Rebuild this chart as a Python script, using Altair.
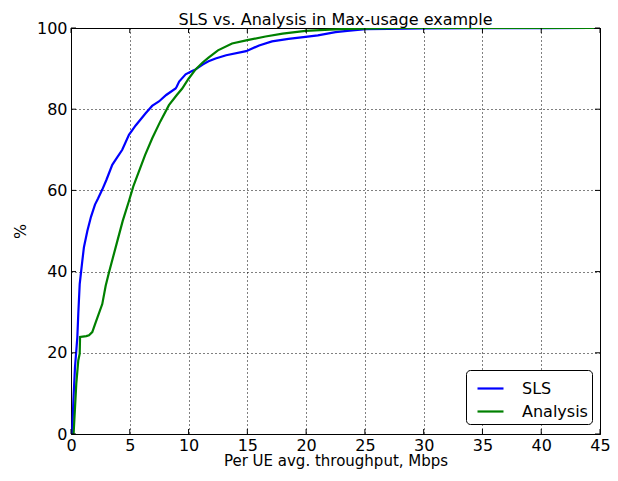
import altair as alt
import pandas as pd

# SLS curve (x: Mbps, y: %)
sls_x = [0.1, 0.2, 0.34, 0.45, 0.54, 0.62, 0.74, 0.96, 1.1, 1.39, 1.7, 2.04, 2.3, 2.66,
         3.0, 3.51, 3.9, 4.36, 4.93, 5.5, 6.35, 6.9, 7.48, 8.1, 8.9, 9.0, 9.2, 9.75,
         10.3, 10.6, 11.2, 11.7, 12.3, 13.2, 14.9, 16.0, 17.1, 18.5, 19.95, 21.0,
         22.5, 23.5, 25.05, 27.0, 30.0, 35.0, 40.0, 44.2]
sls_y = [0.0, 8.0, 16.5, 20.5, 23.9, 29.6, 36.9, 42.6, 46.0, 50.0, 53.5, 56.5, 58.0, 60.2,
         62.5, 66.3, 68.0, 70.0, 73.7, 76.0, 79.0, 80.8, 81.9, 83.5, 85.1, 85.6, 86.8, 88.6,
         89.4, 89.8, 91.0, 91.8, 92.5, 93.3, 94.3, 95.7, 96.7, 97.3, 97.8, 98.2,
         99.0, 99.3, 99.7, 99.8, 99.9, 99.95, 99.98, 100.0]

# Analysis curve
ana_x = [0.22, 0.45, 0.62, 0.74, 0.77, 1.0, 1.3, 1.53, 1.81, 2.1, 2.66, 2.95, 3.23, 3.94,
         4.4, 4.93, 5.3, 5.78, 6.3, 6.92, 7.6, 8.33, 9.0, 9.46, 10.0, 10.6, 11.2,
         11.7, 12.5, 13.7, 15.0, 16.55, 18.0, 19.95, 22.0, 23.6, 26.0, 28.0, 32.0,
         38.0, 44.5]
ana_y = [0.0, 12.4, 18.1, 19.8, 23.9, 24.0, 24.1, 24.3, 25.1, 27.5, 32.0, 36.5, 39.8, 47.5,
         52.5, 57.4, 61.0, 64.7, 68.7, 72.9, 77.0, 81.0, 83.5, 85.1, 87.5, 89.8, 91.5,
         92.7, 94.5, 96.2, 97.0, 97.9, 98.6, 99.3, 99.6, 99.8, 99.9, 100.0, 100.0,
         100.0, 100.0]

series = ["SLS", "Analysis"]
colors = ["#0000ff", "#008000"]
x_ticks = [0, 5, 10, 15, 20, 25, 30, 35, 40, 45]
y_ticks = [0, 20, 40, 60, 80, 100]

W, H = 529, 406

rows = []
for i, (xv, yv) in enumerate(zip(sls_x, sls_y)):
    rows.append({"x": xv, "y": yv, "series": "SLS", "o": i})
for i, (xv, yv) in enumerate(zip(ana_x, ana_y)):
    rows.append({"x": xv, "y": yv, "series": "Analysis", "o": i})
df = pd.DataFrame(rows)

xscale = alt.Scale(domain=[0, 45], nice=False, zero=False)
yscale = alt.Scale(domain=[0, 100], nice=False, zero=False)

lines = alt.Chart(df).mark_line(strokeWidth=2.2, clip=True).encode(
    x=alt.X("x:Q", scale=xscale,
            axis=alt.Axis(values=x_ticks, title="Per UE avg. throughput, Mbps",
                          grid=True, gridDash=[1, 3], gridColor="black", gridOpacity=1,
                          gridWidth=1, ticks=False, domain=False,
                          labelFontSize=16, labelColor="black", labelPadding=3,
                          titleFontSize=15, titleFontWeight="normal", titleColor="black",
                          titlePadding=0, labelFlush=False)),
    y=alt.Y("y:Q", scale=yscale,
            axis=alt.Axis(values=y_ticks, title="%",
                          grid=True, gridDash=[1, 3], gridColor="black", gridOpacity=1,
                          gridWidth=1, ticks=False, domain=False,
                          labelFontSize=16, labelColor="black", labelPadding=4,
                          titleFontSize=16, titleFontWeight="normal", titleColor="black",
                          titlePadding=8, labelFlush=False)),
    color=alt.Color("series:N", scale=alt.Scale(domain=series, range=colors),
                    legend=alt.Legend(title=None, orient="none", legendX=395, legendY=342,
                                      strokeColor="black", fillColor="white", padding=4,
                                      symbolOffset=6,
                                      cornerRadius=4, labelFontSize=16, labelColor="black",
                                      symbolType="stroke", symbolSize=676,
                                      symbolStrokeWidth=2.2, labelOffset=17, rowPadding=-2)),
    order="o:Q",
)

xt = pd.DataFrame({"x": x_ticks})
yt = pd.DataFrame({"y": y_ticks})
tick_len = 5
xt_bottom = alt.Chart(xt).mark_rule(color="black", strokeWidth=1).encode(
    x=alt.X("x:Q", scale=xscale), y=alt.value(H), y2=alt.value(H - tick_len))
xt_top = alt.Chart(xt).mark_rule(color="black", strokeWidth=1).encode(
    x=alt.X("x:Q", scale=xscale), y=alt.value(0), y2=alt.value(tick_len))
yt_left = alt.Chart(yt).mark_rule(color="black", strokeWidth=1).encode(
    y=alt.Y("y:Q", scale=yscale), x=alt.value(0), x2=alt.value(tick_len))
yt_right = alt.Chart(yt).mark_rule(color="black", strokeWidth=1).encode(
    y=alt.Y("y:Q", scale=yscale), x=alt.value(W), x2=alt.value(W - tick_len))

chart = alt.layer(lines, xt_bottom, xt_top, yt_left, yt_right).properties(
    width=W, height=H,
    title=alt.TitleParams("SLS vs. Analysis in Max-usage example", fontSize=16,
                          fontWeight="normal", color="black", offset=0, dy=8,
                          frame="group"),
    autosize=alt.AutoSizeParams(type="none"),
    padding={"left": 63, "top": 20, "right": 10, "bottom": 39},
).configure(font="DejaVu Sans").configure_view(stroke="black", strokeWidth=1)

chart.save("out.html", embed_options={"renderer": "svg", "actions": False})
